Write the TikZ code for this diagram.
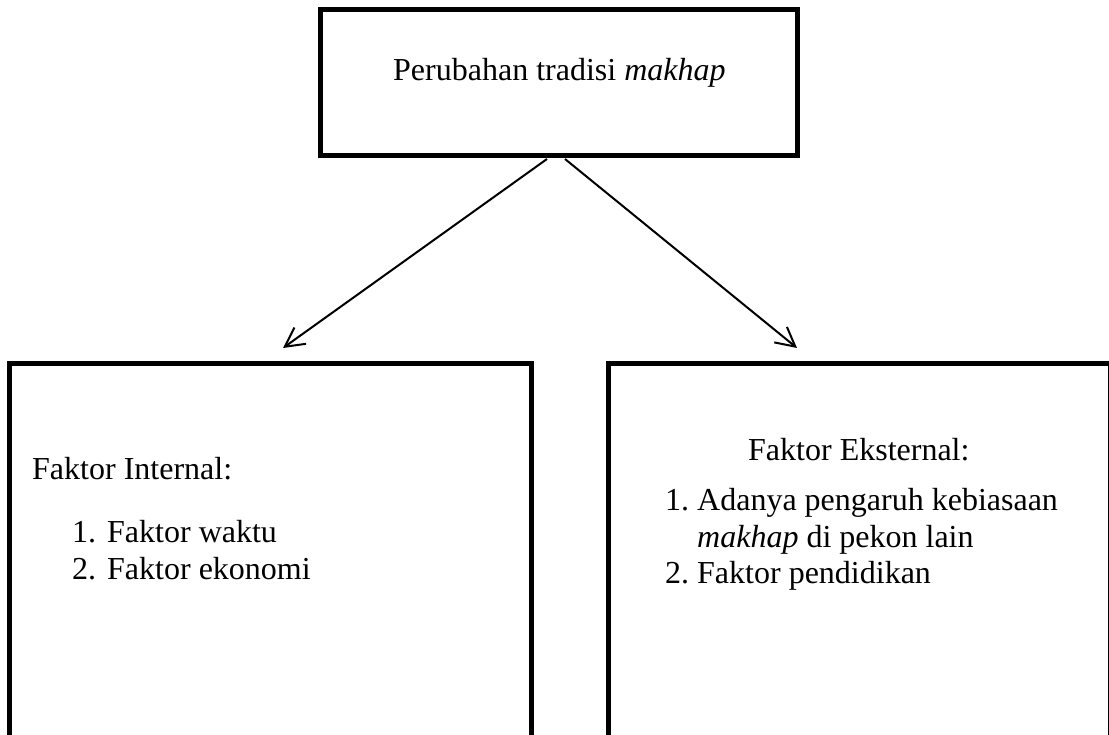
\documentclass[tikz,border=0pt]{standalone}
\usepackage{fontspec}
\setmainfont{Liberation Serif}
\usetikzlibrary{arrows.meta}
\begin{document}
\begin{tikzpicture}[x=1pt,y=-1pt,
  box/.style={draw=black, line width=5pt, rectangle, inner sep=0pt},
  txt/.style={anchor=base west, inner sep=0pt, font=\fontsize{32}{36.8}\selectfont},
  conn/.style={line width=2pt, -{Straight Barb[length=19pt,width=20pt]}}]
\useasboundingbox (0,0) rectangle (1109,735);
\clip (0,0) rectangle (1109,735);
% boxes
\node[box, minimum width=477pt, minimum height=146.5pt] (topbox) at (559,82.75) {};
\node[box, minimum width=522pt, minimum height=436.5pt] (leftbox) at (270.5,581.75) {};
\node[box, minimum width=501.5pt, minimum height=436.5pt] (rightbox) at (859.25,581.75) {};
% texts
\node[txt] (toptext) at (393,81) {Perubahan tradisi \textit{makhap}};
\node[txt] (lhead) at (32,479) {Faktor Internal:};
\node[txt] (lnum1) at (72,542) {1.};
\node[txt] (litem1) at (107,542) {Faktor waktu};
\node[txt] (lnum2) at (72,579) {2.};
\node[txt] (litem2) at (107,579) {Faktor ekonomi};
\node[txt] (rhead) at (748,460) {Faktor Eksternal:};
\node[txt] (rnum1) at (665,510) {1.};
\node[txt] (ritem1) at (697,510) {Adanya pengaruh kebiasaan};
\node[txt] (ritem1b) at (697,547) {\textit{makhap} di pekon lain};
\node[txt] (rnum2) at (665,583) {2.};
\node[txt] (ritem2) at (697,583) {Faktor pendidikan};
% connectors
\coordinate (s1) at (547,159);
\coordinate (s2) at (565,159);
\coordinate (t1) at (283,348);
\coordinate (t2) at (797,348);
\draw[conn] (s1) -- (t1);
\draw[conn] (s2) -- (t2);
\end{tikzpicture}
\end{document}
